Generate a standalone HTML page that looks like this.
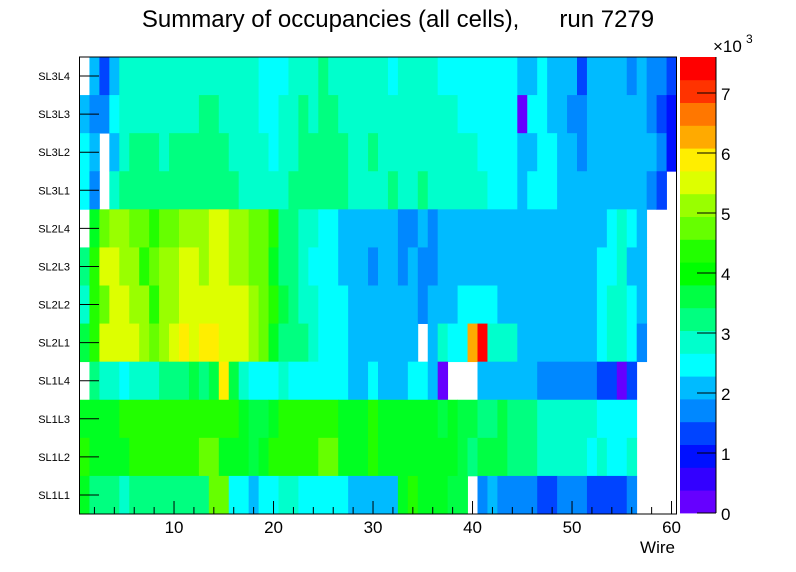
<!DOCTYPE html>
<html><head><meta charset="utf-8"><style>
html,body{margin:0;padding:0;background:#fff;}
svg{display:block;font-family:"Liberation Sans",Arial,sans-serif;}
</style></head><body>
<svg id="s" width="796" height="572" viewBox="0 0 796 572" xmlns="http://www.w3.org/2000/svg">
<rect width="796" height="572" fill="#fff"/>
<g id="cells"></g>
<g id="cb"></g>
<rect x="79.5" y="57" width="597" height="457" fill="none" stroke="#000" stroke-width="1"/>
<g id="ax" stroke="#000" stroke-width="1"></g>
<g id="txt" font-size="17" fill="#000"></g>
<text x="398" y="27" font-size="24" text-anchor="middle" xml:space="preserve">Summary of occupancies (all cells),      run 7279</text>
<text x="675" y="553" font-size="17" text-anchor="end">Wire</text>
<text x="713" y="52" font-size="17">×10</text>
<text x="746" y="43" font-size="12">3</text>
</svg>
<script>
var col={W:"#ffffff",P:"#6600ff",Q:"#3300ff",B:"#0010ff",D:"#0044ff",M:"#0088ff",S:"#00bbff",C:"#00ffff",A:"#00ffcc",T:"#00ff80",g:"#00ff44",n:"#00ff22",h:"#22ff00",l:"#66ff00",v:"#99ff00",y:"#ddff00",Y:"#ffee00",O:"#ffaa00",R:"#ff0000"};
var rows=[
"W1S1D1S1A14C3A3T1A6C1A4C8S2C1S3D1S4M1S1M2D1",
"S1M2C1A8T2A4C2A2T1A1T2A12C6P1C2S2M2S6M1D1B1",
"C1S1W1S1A1T3A1T6A4C1A2T5A2T1A10C4S2C2S2M1S7M1B1",
"C1M1W1A1T12A5T6A4T1A2T1A6C3S1C3S9M1D1W1",
"W1n1l1v2l2h1l2v3y2v2l2h1T2A2C2S4S2M2S1M1S17C1A1C1S1W3",
"T1h1y2v2h1l1v2y2v1y2v2l2n1T2A1C3S3M1S2M1S1M2S16C2A1S2W3",
"A1h1l1y2v2h1v2y7v1l1h1g1T1A2C3S4S3M1S3C4S10C1A2C1S1W3",
"g1h1y4v1l1v1y1Y1y1Y2y3v1l1n1T3A1C3S4S3W1S1A1C2O1R1A3S8C1A2C1M1W3",
"W1T1A2C1A3T3g1T1g1Y1g1A1C3A1C6S2C1S3C2S1P1W3S6M6D2P1D1W4",
"n4h12n1g2n1h6n3h1n6g1n1g2T2g1T3A6C4W4",
"h1n4h7l2n3g1n1h5l2n3h1n8g1T1g3T3A5C1A1C2A1W4",
"n1T3A1T8l2C2S1C2A2C5S4S1n1h1n3g2W1M1S1M4D2M3D4M1W4"];
var labels=["SL3L4","SL3L3","SL3L2","SL3L1","SL2L4","SL2L3","SL2L2","SL2L1","SL1L4","SL1L3","SL1L2","SL1L1"];
var NS="http://www.w3.org/2000/svg";
function el(t,a,p){var e=document.createElementNS(NS,t);for(var k in a)e.setAttribute(k,a[k]);p.appendChild(e);return e;}
var cells=document.getElementById("cells"),ax=document.getElementById("ax"),txt=document.getElementById("txt");
var x0=79.5,cw=9.95,y0=57,rh=457/12;
rows.forEach(function(r,i){
  var re=/([A-Za-z])(\d+)/g,m,c=0;
  while((m=re.exec(r))){var n=+m[2];
    if(m[1]!="W")el("rect",{x:(x0+c*cw).toFixed(2),y:(y0+i*rh).toFixed(2),width:(n*cw+0.4).toFixed(2),height:(rh+0.4).toFixed(2),fill:col[m[1]]},cells);
    c+=n;}
  var yc=y0+(i+0.5)*rh;
  el("line",{x1:80,y1:yc,x2:99,y2:yc},ax);
  var t=el("text",{x:70,y:yc+4,"font-size":"11","text-anchor":"end"},txt);t.textContent=labels[i];
});
for(var w=2;w<=60;w+=2){var x=x0+(w-0.5)*cw;var L=(w%10==0)?13:7;el("line",{x1:x,y1:514,x2:x,y2:514-L},ax);
  if(w%10==0){var t=el("text",{x:x,y:533,"text-anchor":"middle"},txt);t.textContent=w;}}
var cb=document.getElementById("cb");
var cbc=["#6600ff","#3300ff","#0010ff","#0044ff","#0088ff","#00bbff","#00ffff","#00ffcc","#00ff80","#00ff44","#00ff00","#22ff00","#66ff00","#99ff00","#ddff00","#ffee00","#ffaa00","#ff7700","#ff3300","#ff0000"];
var cbTop=57,cbBot=513,sh=(cbBot-cbTop)/20;
cbc.forEach(function(c,i){el("rect",{x:680,y:(cbBot-(i+1)*sh).toFixed(2),width:36,height:(sh+0.4).toFixed(2),fill:c},cb);});
el("line",{x1:716,y1:cbTop,x2:716,y2:cbBot},ax);
for(var k=0;k<=7;k++){var y=513-k*60;el("line",{x1:697,y1:y,x2:716,y2:y},ax);var t=el("text",{x:721,y:y+7},txt);t.textContent=k;}
</script>
</body></html>
